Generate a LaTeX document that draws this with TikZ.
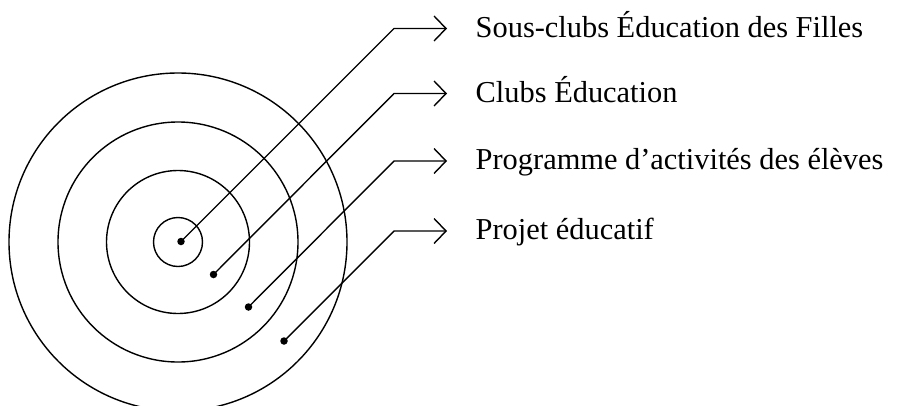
\documentclass[tikz,border=0pt]{standalone}
\usepackage{fontspec}
\setmainfont{Liberation Serif}
\usetikzlibrary{arrows.meta}
\usetikzlibrary{positioning}

\tikzset{
	dot/.style={circle, fill, inner sep=0pt, minimum size=7.5pt},
	pointer/.style={-{Straight Barb[length=12pt, width=25pt]}},
	lbl/.style={inner sep=0pt, font=\fontsize{30.4}{36}\selectfont}
}

\newcommand{\ringlabel}[5] % name, dot x, dot y, bend y, text
{
	% dot inside the ring
	\node[dot] (d#1) at (#2,#3) {};
	% bend and arrow end
	\coordinate (b#1) at (394,#4);
	\coordinate (t#1) at (447,#4);
	% label
	\node[lbl, right=28pt of t#1, anchor=base west, yshift=-8.5pt] (l#1) {#5};
	\draw[pointer] (d#1.center) -- (b#1) -- (t#1);
}

\begin{document}
\begin{tikzpicture}[x=1pt, y=-1pt, line width=1.4pt]
	% page: 897 x 405, y downwards
	\clip (0,0) rectangle (897,405);
	% rings
	\coordinate (c) at (178,242);
	\draw (c) circle[radius=24.5];
	\draw (c) circle[radius=71.5];
	\draw (c) circle[radius=120];
	\draw (c) circle[radius=169];
	
	\ringlabel{1}{181}{241.5}{28.5}{Sous-clubs Éducation des Filles};
	\ringlabel{2}{213.5}{274.5}{93.5}{Clubs Éducation};
	\ringlabel{3}{248.5}{307}{161}{Programme d’activités des élèves};
	\ringlabel{4}{284}{341}{231}{Projet éducatif};
\end{tikzpicture}
\end{document}
